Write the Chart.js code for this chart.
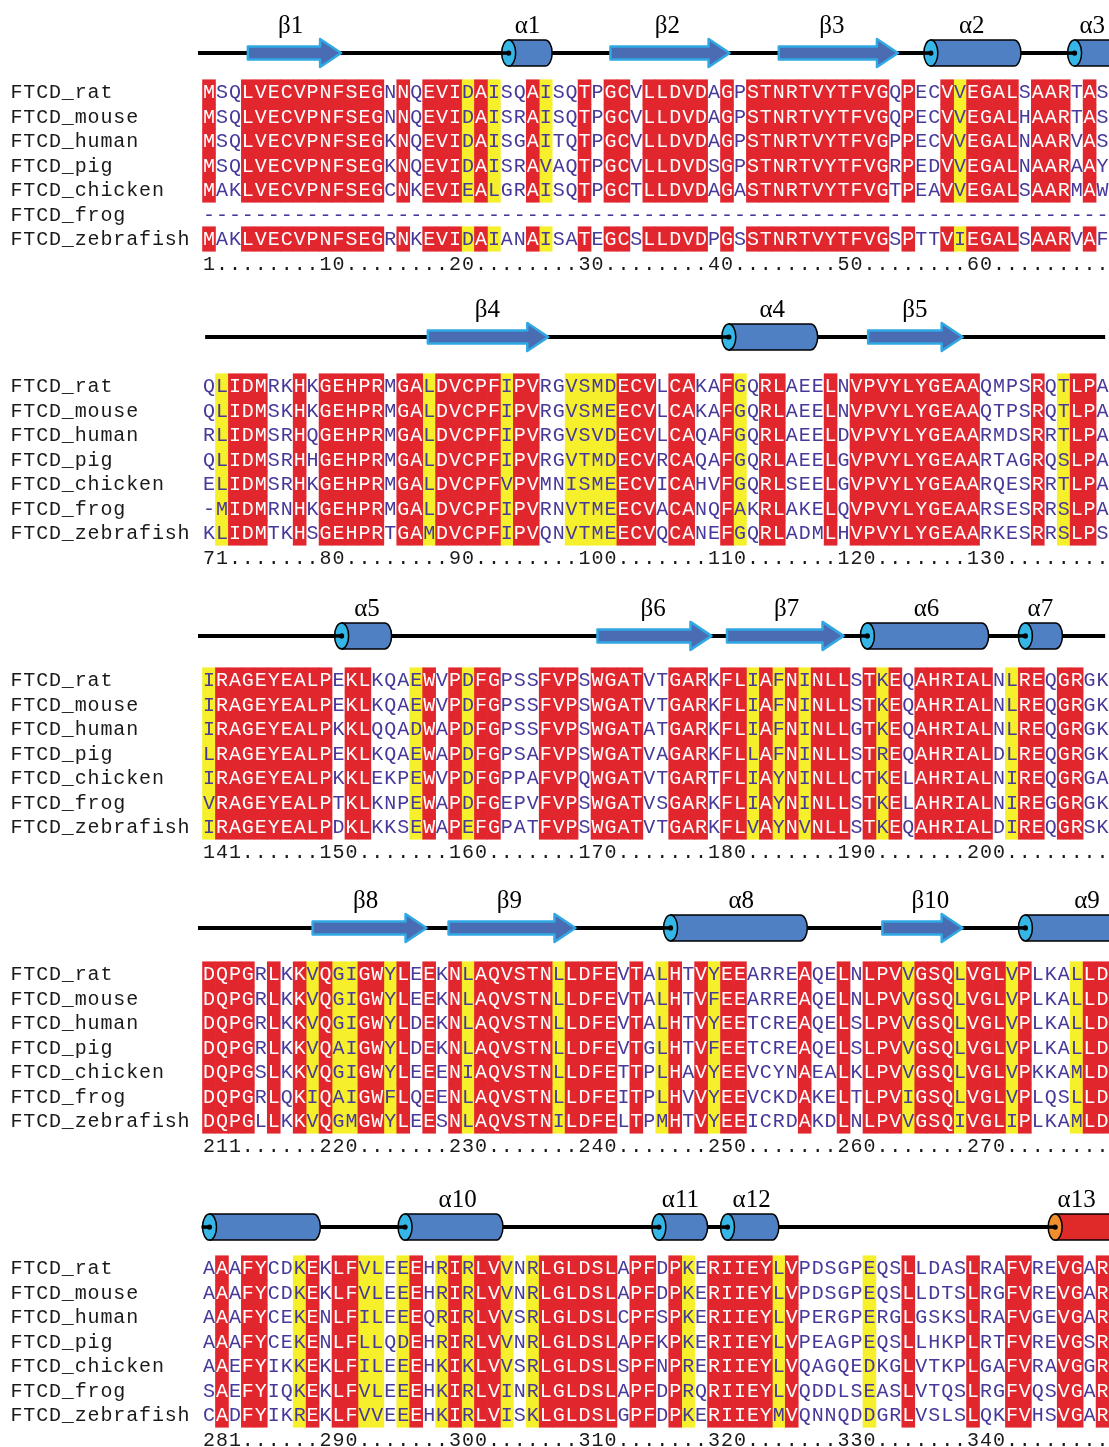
<!DOCTYPE html>
<html>
<head>
<meta charset="utf-8">
<script src="https://cdn.jsdelivr.net/npm/chart.js@4.4.1/dist/chart.umd.min.js"></script>
<style>
  html, body { margin: 0; padding: 0; background: #fff; }
  #wrap { width: 1109px; height: 1447px; position: relative; }
</style>
</head>
<body>
<div id="wrap"><canvas id="aln"></canvas></div>
<script>
// --- data ---
const species = ['FTCD_rat', 'FTCD_mouse', 'FTCD_human', 'FTCD_pig', 'FTCD_chicken', 'FTCD_frog', 'FTCD_zebrafish'];
const blockStarts = [1, 71, 141, 211, 281];

const seq1 = [
  'MSQLVECVPNFSEGNNQEVIDAISQAISQTPGCVLLDVDAGPSTNRTVYTFVGQPECVVEGALSAARTAS',
  'MSQLVECVPNFSEGNNQEVIDAISRAISQTPGCVLLDVDAGPSTNRTVYTFVGQPECVVEGALHAARTAS',
  'MSQLVECVPNFSEGKNQEVIDAISGAITQTPGCVLLDVDAGPSTNRTVYTFVGPPECVVEGALNAARVAS',
  'MSQLVECVPNFSEGKNQEVIDAISRAVAQTPGCVLLDVDSGPSTNRTVYTFVGRPEDVVEGALNAARAAY',
  'MAKLVECVPNFSEGCNKEVIEALGRAISQTPGCTLLDVDAGASTNRTVYTFVGTPEAVVEGALSAARMAW',
  '----------------------------------------------------------------------',
  'MAKLVECVPNFSEGRNKEVIDAIANAISATEGCSLLDVDPGSSTNRTVYTFVGSPTTVIEGALSAARVAF'
];
const seq2 = [
  'QLIDMRKHKGEHPRMGALDVCPFIPVRGVSMDECVLCAKAFGQRLAEELNVPVYLYGEAAQMPSRQTLPA',
  'QLIDMSKHKGEHPRMGALDVCPFIPVRGVSMEECVLCAKAFGQRLAEELNVPVYLYGEAAQTPSRQTLPA',
  'RLIDMSRHQGEHPRMGALDVCPFIPVRGVSVDECVLCAQAFGQRLAEELDVPVYLYGEAARMDSRRTLPA',
  'QLIDMSRHHGEHPRMGALDVCPFIPVRGVTMDECVRCAQAFGQRLAEELGVPVYLYGEAARTAGRQSLPA',
  'ELIDMSRHKGEHPRMGALDVCPFVPVMNISMEECVICAHVFGQRLSEELGVPVYLYGEAARQESRRTLPA',
  '-MIDMRNHKGEHPRMGALDVCPFIPVRNVTMEECVACANQFAKRLAKELQVPVYLYGEAARSESRRSLPA',
  'KLIDMTKHSGEHPRTGAMDVCPFIPVQNVTMEECVQCANEFGQRLADMLHVPVYLYGEAARKESRRSLPS'
];
const seq3 = [
  'IRAGEYEALPEKLKQAEWVPDFGPSSFVPSWGATVTGARKFLIAFNINLLSTKEQAHRIALNLREQGRGK',
  'IRAGEYEALPEKLKQAEWVPDFGPSSFVPSWGATVTGARKFLIAFNINLLSTKEQAHRIALNLREQGRGK',
  'IRAGEYEALPKKLQQADWAPDFGPSSFVPSWGATATGARKFLIAFNINLLGTKEQAHRIALNLREQGRGK',
  'LRAGEYEALPEKLKQAEWAPDFGPSAFVPSWGATVAGARKFLLAFNINLLSTREQAHRIALDLREQGRGK',
  'IRAGEYEALPKKLEKPEWVPDFGPPAFVPQWGATVTGARTFLIAYNINLLCTKELAHRIALNIREQGRGA',
  'VRAGEYEALPTKLKNPEWAPDFGEPVFVPSWGATVSGARKFLIAYNINLLSTKELAHRIALNIREGGRGK',
  'IRAGEYEALPDKLKKSEWAPEFGPATFVPSWGATVTGARKFLVAYNVNLLSTKEQAHRIALDIREQGRSK'
];
const seq4 = [
  'DQPGRLKKVQGIGWYLEEKNLAQVSTNLLDFEVTALHTVYEEARREAQELNLPVVGSQLVGLVPLKALLD',
  'DQPGRLKKVQGIGWYLEEKNLAQVSTNLLDFEVTALHTVFEEARREAQELNLPVVGSQLVGLVPLKALLD',
  'DQPGRLKKVQGIGWYLDEKNLAQVSTNLLDFEVTALHTVYEETCREAQELSLPVVGSQLVGLVPLKALLD',
  'DQPGRLKKVQAIGWYLDEKNLAQVSTNLLDFEVTGLHTVFEETCREAQELSLPVVGSQLVGLVPLKALLD',
  'DQPGSLKKVQGIGWYLEEENIAQVSTNLLDFETTPLHAVYEEVCYNAEALKLPVVGSQLVGLVPKKAMLD',
  'DQPGRLQKIQAIGWFLQEENLAQVSTNLLDFEITPLHVVYEEVCKDAKELTLPVIGSQLVGLVPLQSLLD',
  'DQPGLLKKVQGMGWYLEESNLAQVSTNILDFELTPMHTVYEEICRDAKDLNLPVVGSQIVGLIPLKAMLD'
];
const seq5 = [
  'AAAFYCDKEKLFVLEEEHRIRLVVNRLGLDSLAPFDPKERIIEYLVPDSGPEQSLLDASLRAFVREVGAR',
  'AAAFYCDKEKLFVLEEEHRIRLVVNRLGLDSLAPFDPKERIIEYLVPDSGPEQSLLDTSLRGFVREVGAR',
  'AAAFYCEKENLFILEEEQRIRLVVSRLGLDSLCPFSPKERIIEYLVPERGPERGLGSKSLRAFVGEVGAR',
  'AAAFYCEKENLFLLQDEHRIRLVVNRLGLDSLAPFKPKERIIEYLVPEAGPEQSLLHKPLRTFVREVGSR',
  'AAEFYIKKEKLFILEEEHKIKLVVSRLGLDSLSPFNPRERIIEYLVQAGQEDKGLVTKPLGAFVRAVGGR',
  'SAEFYIQKEKLFVLEEEHKIRLVINRLGLDSLAPFDPRQRIIEYLVQDDLSEASLVTQSLRGFVQSVGAR',
  'CADFYIKREKLFVVEEEHKIRLVISKLGLDSLGPFDPKERIIEYMVQNNQDDGRLVSLSLQKFVHSVGAR'
];

// column shading: r = strictly conserved (red), y = similar (yellow), . = none
const shade1 = 'r..rrrrrrr' + 'rrrr.r.rrr' + 'yry..ry..r' + '.rr.rrrrr.' + 'r.rrrrrrrr' + 'rrr.r..ryr' + 'rrr.rrr.r.';
const shade2 = '.yrrr..r.r' + 'rrrr.rryrr' + 'rrryrr..yy' + 'yyrrr.rr..' + 'ry.rr...r.' + 'rrrrrrrrrr' + '....r.yrr.';
const shade3 = 'yrrrrrrrrr' + '.rr...yr.r' + 'yrr...rrr.' + 'rrrr..rrr.' + 'rryryryrrr' + '.ryr.rrrrr' + 'r.yrr.rr..';
const shade4 = 'rrrr.r.ryr' + 'yyrryr.r.r' + 'yrrrrrryrr' + 'rr.r.yr.ry' + 'rr....r..r' + '.rrryrrryr' + 'rryr...yrr';
const shade5 = '.r.rr..yr.' + 'rryy.yr.yr' + 'yrry.yrrrr' + 'rr.rr.ry.r' + 'rrrryr....' + '.y..r....r' + '..rr..rr.r';

// secondary structure, in alignment columns of each block (E = strand, H = helix)
const ss1 = [
  { kind: 'E', name: 'β1', from: 4.0, to: 11.2, lab: 7.3 },
  { kind: 'H', name: 'α1', from: 23.6, to: 27.5, lab: 25.6 },
  { kind: 'E', name: 'β2', from: 32.0, to: 41.2, lab: 36.4 },
  { kind: 'E', name: 'β3', from: 45.0, to: 54.2, lab: 49.1 },
  { kind: 'H', name: 'α2', from: 56.2, to: 63.7, lab: 59.9 },
  { kind: 'H', name: 'α3', from: 67.3, to: 71.5, lab: 69.2 }
];
const ss2 = [
  { kind: 'E', name: 'β4', from: 17.9, to: 27.2, lab: 22.5 },
  { kind: 'H', name: 'α4', from: 40.6, to: 48.0, lab: 44.5 },
  { kind: 'E', name: 'β5', from: 51.9, to: 59.2, lab: 55.5 }
];
const ss3 = [
  { kind: 'H', name: 'α5', from: 10.7, to: 15.1, lab: 13.2 },
  { kind: 'E', name: 'β6', from: 31.0, to: 39.8, lab: 35.3 },
  { kind: 'E', name: 'β7', from: 41.0, to: 50.0, lab: 45.6 },
  { kind: 'H', name: 'α6', from: 51.3, to: 61.2, lab: 56.4 },
  { kind: 'H', name: 'α7', from: 63.5, to: 66.9, lab: 65.2 }
];
const ss4 = [
  { kind: 'E', name: 'β8', from: 9.0, to: 17.8, lab: 13.1 },
  { kind: 'E', name: 'β9', from: 19.5, to: 29.3, lab: 24.2 },
  { kind: 'H', name: 'α8', from: 36.1, to: 47.2, lab: 42.1 },
  { kind: 'E', name: 'β10', from: 53.0, to: 59.2, lab: 56.7 },
  { kind: 'H', name: 'α9', from: 63.5, to: 71.5, lab: 68.8 }
];
const ss5 = [
  { kind: 'H', name: '', from: 0.5, to: 9.6, lab: 5 },
  { kind: 'H', name: 'α10', from: 15.6, to: 23.7, lab: 20.2 },
  { kind: 'H', name: 'α11', from: 35.2, to: 39.5, lab: 37.4 },
  { kind: 'H', name: 'α12', from: 40.5, to: 45.0, lab: 42.9 },
  { kind: 'H', name: 'α13', from: 65.8, to: 71.5, lab: 68.0, red: true }
];
// backbone line extent per block (columns)
const lineFrom = [0.15, 0.7, 0.15, 0.15, 0.7];
const lineTo = [70.6, 70.2, 70.2, 70.6, 70.6];

// --- layout ---
const ROWS_PER_BLOCK = 12;
const ssRowOffset = [-1.59, -2.0, -1.8, -1.88, -1.67];
const labelRise = 1.1;
const COLS = 70;

const blocks = [
  { seqs: seq1, shade: shade1, ss: ss1 },
  { seqs: seq2, shade: shade2, ss: ss2 },
  { seqs: seq3, shade: shade3, ss: ss3 },
  { seqs: seq4, shade: shade4, ss: ss4 },
  { seqs: seq5, shade: shade5, ss: ss5 }
];

const RED = '#e2262e', YELLOW = '#f6ef2b', BLUE_TXT = '#47399a';

const redCells = [], yellowCells = [];
blocks.forEach((blk, b) => {
  blk.seqs.forEach((s, i) => {
    if (s.length !== COLS) console.warn('length', b, i, s.length);
    for (let k = 0; k < COLS; k++) {
      if (s[k] === '-') continue;
      const yv = b * ROWS_PER_BLOCK + i;
      const cell = { x: k + 1, y: [yv - 0.5, yv + 0.5] };
      if (blk.shade[k] === 'r') redCells.push(cell);
      else if (blk.shade[k] === 'y') yellowCells.push(cell);
    }
  });
});

const backbones = blocks.map((blk, b) => ({
  type: 'line',
  data: [
    { x: lineFrom[b], y: b * ROWS_PER_BLOCK + ssRowOffset[b] },
    { x: lineTo[b], y: b * ROWS_PER_BLOCK + ssRowOffset[b] }
  ],
  borderColor: '#000',
  borderWidth: 4,
  pointRadius: 0,
  order: 3
}));

function numberRow(start) {
  const chars = new Array(COLS).fill('.');
  const put = (n) => {
    const col = n - start;
    const t = String(n);
    if (col + t.length > COLS) return;
    for (let j = 0; j < t.length; j++) chars[col + j] = t[j];
  };
  put(start);
  for (let n = Math.ceil((start + String(start).length) / 10) * 10; n < start + COLS; n += 10) put(n);
  return chars;
}

function drawHelix(ctx, x0, x1, yc, body, cap) {
  const h = 13, rx = 7;
  ctx.lineWidth = 1.5;
  ctx.strokeStyle = '#000';
  ctx.beginPath();
  ctx.moveTo(x0 + rx, yc - h);
  ctx.lineTo(x1 - rx, yc - h);
  ctx.ellipse(x1 - rx, yc, rx, h, 0, -Math.PI / 2, Math.PI / 2, false);
  ctx.lineTo(x0 + rx, yc + h);
  ctx.closePath();
  ctx.fillStyle = body;
  ctx.fill();
  ctx.stroke();
  ctx.beginPath();
  ctx.ellipse(x0 + rx, yc, rx, h, 0, 0, Math.PI * 2);
  ctx.fillStyle = cap;
  ctx.fill();
  ctx.stroke();
  ctx.beginPath();
  ctx.moveTo(x0 - 1, yc);
  ctx.lineTo(x0 + rx, yc);
  ctx.lineWidth = 3.5;
  ctx.stroke();
  ctx.beginPath();
  ctx.arc(x0 + rx, yc, 2.6, 0, Math.PI * 2);
  ctx.fillStyle = '#000';
  ctx.fill();
}

function drawStrand(ctx, x0, x1, yc) {
  const bh = 6.5, hh = 14, hl = 21;
  const xh = x1 - hl;
  ctx.beginPath();
  ctx.moveTo(x0, yc - bh);
  ctx.lineTo(xh, yc - bh);
  ctx.lineTo(xh, yc - hh);
  ctx.lineTo(x1, yc);
  ctx.lineTo(xh, yc + hh);
  ctx.lineTo(xh, yc + bh);
  ctx.lineTo(x0, yc + bh);
  ctx.closePath();
  ctx.fillStyle = '#4a6cb3';
  ctx.strokeStyle = '#30a8e3';
  ctx.lineWidth = 2.5;
  ctx.lineJoin = 'round';
  ctx.fill();
  ctx.stroke();
}

const alignPlugin = {
  id: 'alignText',
  afterDatasetsDraw(chart) {
    const ctx = chart.ctx;
    const xs = chart.scales.x, ys = chart.scales.y;
    const px = (u) => xs.getPixelForValue(u);
    const py = (v) => ys.getPixelForValue(v);
    ctx.save();

    blocks.forEach((blk, b) => {
      const base = b * ROWS_PER_BLOCK;
      const yl = py(base + ssRowOffset[b]);

      // secondary structure
      blk.ss.forEach(el => {
        const x0 = px(el.from), x1 = px(el.to);
        if (el.kind === 'E') drawStrand(ctx, x0, x1, yl);
        else if (el.red) drawHelix(ctx, x0, x1, yl, '#e02a2a', '#ef8e2c');
        else drawHelix(ctx, x0, x1, yl, '#5080c4', '#35b6e6');
        if (el.name) {
          ctx.fillStyle = '#000';
          ctx.font = '25px "Liberation Serif", "Times New Roman", serif';
          ctx.textAlign = 'center';
          ctx.textBaseline = 'middle';
          ctx.fillText(el.name, px(el.lab), py(base + ssRowOffset[b] - labelRise));
        }
      });

      // residues
      ctx.font = '20px "Liberation Mono", "Courier New", monospace';
      ctx.textAlign = 'center';
      ctx.textBaseline = 'middle';
      blk.seqs.forEach((s, i) => {
        const y = py(base + i) + 1;
        for (let k = 0; k < COLS; k++) {
          const m = blk.shade[k];
          ctx.fillStyle = (m === 'r' && s[k] !== '-') ? '#fff' : BLUE_TXT;
          ctx.fillText(s[k], px(k + 1), y);
        }
        // species names, fixed pitch
        ctx.fillStyle = '#1a1a1a';
        const name = species[i];
        for (let j = 0; j < name.length; j++) {
          ctx.fillText(name[j], 10 + 12.86 * (j + 0.5), y);
        }
      });

      // numbering
      const nums = numberRow(blockStarts[b]);
      ctx.fillStyle = '#1a1a1a';
      const yn = py(base + 7) + 1;
      nums.forEach((c, k) => ctx.fillText(c, px(k + 1), yn));
    });
    ctx.restore();
  }
};

new Chart(document.getElementById('aln'), {
  type: 'bar',
  data: {
    datasets: [
      { label: 'identical', data: redCells, backgroundColor: RED, grouped: false, order: 2,
        categoryPercentage: 1, barPercentage: 1, borderWidth: 0 },
      { label: 'similar', data: yellowCells, backgroundColor: YELLOW, grouped: false, order: 2,
        categoryPercentage: 1, barPercentage: 1, borderWidth: 0 },
      ...backbones
    ]
  },
  options: {
    responsive: true,
    maintainAspectRatio: false,
    animation: false,
    events: [],
    layout: { padding: 0 },
    plugins: { legend: { display: false }, tooltip: { enabled: false } },
    scales: {
      x: { type: 'linear', display: false, offset: false, min: -15.139, max: 70.498,
           ticks: { stepSize: 1, includeBounds: false }, grid: { display: false } },
      y: { type: 'linear', display: false, reverse: true, min: -3.755, max: 55.306,
           grid: { display: false } }
    }
  },
  plugins: [alignPlugin]
});
</script>
</body>
</html>
